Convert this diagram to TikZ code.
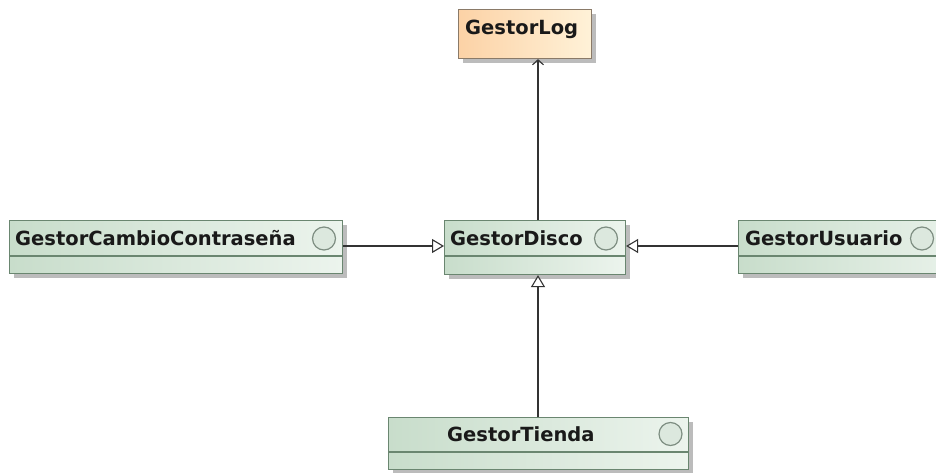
\documentclass[tikz,border=0pt]{standalone}
\usepackage{fontspec}
\setmainfont{DejaVu Sans}
\usetikzlibrary{arrows.meta,shadows,calc}
\definecolor{gleft}{HTML}{C8DDCB}
\definecolor{gright}{HTML}{ECF4ED}
\definecolor{gborder}{HTML}{6A8670}
\definecolor{oleft}{HTML}{FCD2A6}
\definecolor{oright}{HTML}{FFF2D8}
\definecolor{oborder}{HTML}{8A7A68}
\definecolor{shadowc}{HTML}{BCBCBC}
\definecolor{linec}{HTML}{333333}
\definecolor{circfill}{HTML}{DCE8DE}
\definecolor{circline}{HTML}{7E8E82}
\tikzset{
  boxbase/.style={draw, line width=1.1pt, anchor=north west, inner sep=0pt,
    drop shadow={shadow xshift=4pt, shadow yshift=-4pt, fill=shadowc, opacity=1}},
  greenbox/.style={boxbase, draw=gborder, left color=gleft, right color=gright},
  orangebox/.style={boxbase, draw=oborder, left color=oleft, right color=oright},
  lbl/.style={anchor=base west, inner sep=0pt, text=black!90, font=\fontsize{19.5}{22}\selectfont\bfseries},
  stereo/.style={circle, draw=circline, line width=1.2pt, fill=circfill, minimum size=23pt, inner sep=0pt},
  divider/.style={draw=gborder, line width=1.1pt},
  conn/.style={draw=linec, line width=1.1pt},
  gen/.style={conn, -{Triangle[open, length=12pt, width=14pt, fill=white]}},
  dep/.style={conn, -{Straight Barb[length=5pt, width=11pt]}}
}
\begin{document}
\begin{tikzpicture}[x=1pt, y=-1pt]
\useasboundingbox (0,0) rectangle (936,473);
\fill[white] (0,0) rectangle (936,473);
\begin{scope}
\clip (0,0) rectangle (936,473);
% GestorLog
\node[orangebox, minimum width=133pt, minimum height=49pt] (log) at (458,9) {};
\node[lbl] (loglbl) at (465,35) {GestorLog};
% GestorCambioContraseña
\node[greenbox, minimum width=333pt, minimum height=53pt] (cambio) at (9,220) {};
\draw[divider] ($(cambio.north west)+(0,36)$) -- ($(cambio.north east)+(0,36)$);
\node[lbl] (cambiolbl) at (15,245) {GestorCambioContraseña};
\node[stereo] (cambiocirc) at (324,238.5) {};
% GestorDisco
\node[greenbox, minimum width=181pt, minimum height=54pt] (disco) at (444,220) {};
\draw[divider] ($(disco.north west)+(0,36)$) -- ($(disco.north east)+(0,36)$);
\node[lbl] (discolbl) at (450,245) {GestorDisco};
\node[stereo] (discocirc) at (606,238.5) {};
% GestorUsuario
\node[greenbox, minimum width=240pt, minimum height=53pt] (usuario) at (738,220) {};
\draw[divider] ($(usuario.north west)+(0,36)$) -- ($(usuario.north east)+(0,36)$);
\node[lbl] (usuariolbl) at (745,245) {GestorUsuario};
\node[stereo] (usuariocirc) at (922,238.5) {};
% GestorTienda
\node[greenbox, minimum width=300pt, minimum height=52pt] (tienda) at (388,417) {};
\draw[divider] ($(tienda.north west)+(0,35)$) -- ($(tienda.north east)+(0,35)$);
\node[lbl] (tiendalbl) at (447,441) {GestorTienda};
\node[stereo] (tiendacirc) at (670.5,434) {};
% connectors
\coordinate (vx) at (538,0);
\coordinate (hy) at (0,246);
\draw[dep] (disco.north -| vx) -- (log.south -| vx);
\draw[gen] (cambio.east |- hy) -- (disco.west |- hy);
\draw[gen] (usuario.west |- hy) -- (disco.east |- hy);
\draw[gen] (tienda.north -| vx) -- (disco.south -| vx);
\end{scope}
\end{tikzpicture}
\end{document}
